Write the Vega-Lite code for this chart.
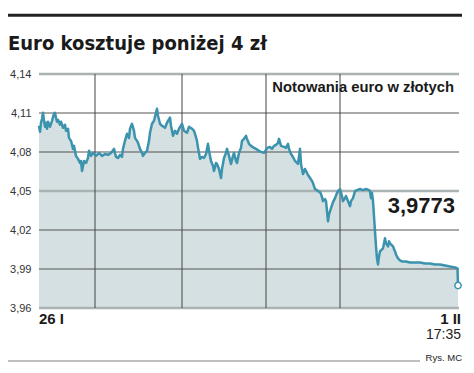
{
  "$schema": "https://vega.github.io/schema/vega-lite/v6.json",
  "autosize": "none",
  "width": 420,
  "height": 234,
  "padding": {"left": 39, "top": 74, "right": 15, "bottom": 65},
  "background": "white",
  "config": {"view": {"stroke": null}, "axisY": {"labelOverlap": false}},
  "datasets": {
    "kurs": [
      {"t":0,"v":4.1002},{"t":1,"v":4.0955},{"t":2,"v":4.1025},{"t":3,"v":4.1056},{"t":4,"v":4.1102},{"t":5,"v":4.1040},{"t":6,"v":4.0994},{"t":7,"v":4.1025},{"t":8,"v":4.0979},{"t":9,"v":4.1033},{"t":11,"v":4.0994},{"t":13,"v":4.1040},{"t":15,"v":4.1095},{"t":16,"v":4.1102},{"t":17,"v":4.1064},{"t":18,"v":4.1033},{"t":19,"v":4.1048},{"t":21,"v":4.1010},{"t":22,"v":4.1033},{"t":24,"v":4.0986},{"t":26,"v":4.1010},{"t":27,"v":4.0963},{"t":29,"v":4.0979},{"t":30,"v":4.0909},{"t":32,"v":4.0886},{"t":34,"v":4.0824},{"t":35,"v":4.0847},{"t":37,"v":4.0770},{"t":39,"v":4.0747},{"t":41,"v":4.0716},{"t":42,"v":4.0731},{"t":43,"v":4.0654},{"t":45,"v":4.0731},{"t":47,"v":4.0716},{"t":49,"v":4.0754},{"t":50,"v":4.0809},{"t":52,"v":4.0770},{"t":54,"v":4.0793},{"t":57,"v":4.0770},{"t":60,"v":4.0793},{"t":63,"v":4.0770},{"t":66,"v":4.0785},{"t":69,"v":4.0778},{"t":72,"v":4.0793},{"t":75,"v":4.0824},{"t":77,"v":4.0762},{"t":79,"v":4.0754},{"t":81,"v":4.0778},{"t":83,"v":4.0762},{"t":84,"v":4.0824},{"t":86,"v":4.0886},{"t":88,"v":4.0940},{"t":90,"v":4.0909},{"t":91,"v":4.0979},{"t":93,"v":4.1017},{"t":95,"v":4.0963},{"t":96,"v":4.0909},{"t":98,"v":4.0886},{"t":99,"v":4.0870},{"t":101,"v":4.0824},{"t":103,"v":4.0793},{"t":104,"v":4.0770},{"t":106,"v":4.0793},{"t":108,"v":4.0809},{"t":110,"v":4.0886},{"t":111,"v":4.0948},{"t":113,"v":4.1017},{"t":115,"v":4.1040},{"t":117,"v":4.1102},{"t":118,"v":4.1133},{"t":119,"v":4.1079},{"t":121,"v":4.1017},{"t":123,"v":4.1002},{"t":126,"v":4.0986},{"t":128,"v":4.1025},{"t":131,"v":4.1064},{"t":132,"v":4.1002},{"t":134,"v":4.0924},{"t":136,"v":4.0963},{"t":138,"v":4.0940},{"t":140,"v":4.0979},{"t":143,"v":4.1017},{"t":145,"v":4.0963},{"t":148,"v":4.0948},{"t":150,"v":4.0994},{"t":153,"v":4.0979},{"t":155,"v":4.0963},{"t":156,"v":4.0940},{"t":158,"v":4.0886},{"t":159,"v":4.0832},{"t":160,"v":4.0793},{"t":161,"v":4.0747},{"t":163,"v":4.0762},{"t":165,"v":4.0754},{"t":167,"v":4.0785},{"t":169,"v":4.0863},{"t":170,"v":4.0809},{"t":172,"v":4.0731},{"t":174,"v":4.0693},{"t":175,"v":4.0654},{"t":177,"v":4.0716},{"t":178,"v":4.0708},{"t":180,"v":4.0669},{"t":182,"v":4.0600},{"t":183,"v":4.0669},{"t":185,"v":4.0754},{"t":187,"v":4.0793},{"t":188,"v":4.0824},{"t":190,"v":4.0770},{"t":192,"v":4.0708},{"t":194,"v":4.0770},{"t":195,"v":4.0793},{"t":197,"v":4.0731},{"t":198,"v":4.0716},{"t":200,"v":4.0793},{"t":202,"v":4.0832},{"t":203,"v":4.0886},{"t":205,"v":4.0901},{"t":207,"v":4.0924},{"t":208,"v":4.0901},{"t":210,"v":4.0863},{"t":212,"v":4.0847},{"t":215,"v":4.0832},{"t":217,"v":4.0824},{"t":220,"v":4.0809},{"t":222,"v":4.0801},{"t":225,"v":4.0793},{"t":227,"v":4.0816},{"t":228,"v":4.0832},{"t":231,"v":4.0839},{"t":233,"v":4.0824},{"t":235,"v":4.0847},{"t":237,"v":4.0855},{"t":239,"v":4.0870},{"t":240,"v":4.0901},{"t":242,"v":4.0847},{"t":245,"v":4.0839},{"t":247,"v":4.0832},{"t":249,"v":4.0863},{"t":250,"v":4.0824},{"t":252,"v":4.0785},{"t":254,"v":4.0762},{"t":256,"v":4.0731},{"t":258,"v":4.0716},{"t":259,"v":4.0708},{"t":261,"v":4.0824},{"t":262,"v":4.0708},{"t":264,"v":4.0631},{"t":266,"v":4.0669},{"t":267,"v":4.0654},{"t":269,"v":4.0623},{"t":271,"v":4.0600},{"t":273,"v":4.0577},{"t":274,"v":4.0561},{"t":276,"v":4.0515},{"t":278,"v":4.0507},{"t":279,"v":4.0499},{"t":281,"v":4.0491},{"t":282,"v":4.0476},{"t":283,"v":4.0453},{"t":284,"v":4.0422},{"t":286,"v":4.0437},{"t":287,"v":4.0422},{"t":288,"v":4.0345},{"t":289,"v":4.0267},{"t":290,"v":4.0321},{"t":292,"v":4.0368},{"t":294,"v":4.0414},{"t":296,"v":4.0445},{"t":298,"v":4.0484},{"t":299,"v":4.0499},{"t":301,"v":4.0515},{"t":303,"v":4.0461},{"t":304,"v":4.0422},{"t":306,"v":4.0445},{"t":307,"v":4.0461},{"t":309,"v":4.0422},{"t":311,"v":4.0383},{"t":312,"v":4.0422},{"t":314,"v":4.0445},{"t":316,"v":4.0499},{"t":318,"v":4.0507},{"t":321,"v":4.0515},{"t":324,"v":4.0507},{"t":327,"v":4.0515},{"t":330,"v":4.0507},{"t":331,"v":4.0499},{"t":332,"v":4.0445},{"t":333,"v":4.0484},{"t":334,"v":4.0422},{"t":335,"v":4.0306},{"t":336,"v":4.0190},{"t":337,"v":4.0074},{"t":338,"v":3.9981},{"t":339,"v":3.9935},{"t":340,"v":3.9997},{"t":341,"v":4.0035},{"t":343,"v":4.0051},{"t":344,"v":4.0059},{"t":345,"v":4.0097},{"t":346,"v":4.0136},{"t":347,"v":4.0097},{"t":349,"v":4.0074},{"t":350,"v":4.0113},{"t":351,"v":4.0097},{"t":353,"v":4.0082},{"t":354,"v":4.0074},{"t":356,"v":4.0035},{"t":357,"v":4.0012},{"t":359,"v":3.9981},{"t":361,"v":3.9966},{"t":363,"v":3.9958},{"t":367,"v":3.9958},{"t":371,"v":3.9950},{"t":376,"v":3.9950},{"t":381,"v":3.9950},{"t":386,"v":3.9943},{"t":391,"v":3.9943},{"t":396,"v":3.9935},{"t":401,"v":3.9935},{"t":406,"v":3.9927},{"t":411,"v":3.9919},{"t":416,"v":3.9912},{"t":418.5,"v":3.9904},{"t":419,"v":3.9773}
    ]
  },
  "layer": [
    {
      "data": {"name": "kurs"},
      "mark": {"type": "area", "color": "#d4e0e1"},
      "encoding": {
        "x": {"field": "t", "type": "quantitative", "scale": {"domain": [0, 420], "nice": false, "zero": false}, "axis": null},
        "y": {"field": "v", "type": "quantitative", "scale": {"domain": [3.96, 4.14], "nice": false, "zero": false},
          "axis": {"title": null, "values": [3.96, 3.99, 4.02, 4.05, 4.08, 4.11, 4.14], "tickCount": 20, "labelExpr": "replace(format(datum.value, '.2f'), '.', ',')", "labelOverlap": false, "grid": false, "domain": false, "ticks": false, "labelPadding": 8, "labelFont": "Liberation Sans", "labelFontSize": 11, "labelColor": "#333333"}},
        "y2": {"datum": 3.96}
      }
    },
    {
      "data": {"values": [{"v": 4.11}, {"v": 4.08}, {"v": 4.02}, {"v": 3.99}]},
      "mark": {"type": "rule", "color": "#555555", "strokeWidth": 1},
      "encoding": {"y": {"field": "v", "type": "quantitative"}}
    },
    {
      "data": {"values": [{"v": 4.14}, {"v": 4.05}, {"v": 3.96}]},
      "mark": {"type": "rule", "color": "#aab3b3", "strokeWidth": 2.5},
      "encoding": {"y": {"field": "v", "type": "quantitative"}}
    },
    {
      "data": {"values": [{"t": 56}, {"t": 143}, {"t": 227}, {"t": 301}]},
      "mark": {"type": "rule", "color": "#444444", "strokeWidth": 1},
      "encoding": {"x": {"field": "t", "type": "quantitative", "axis": null}}
    },
    {
      "data": {"name": "kurs"},
      "mark": {"type": "line", "color": "#3b93ae", "strokeWidth": 2.5, "strokeJoin": "round"},
      "encoding": {
        "x": {"field": "t", "type": "quantitative", "axis": null},
        "y": {"field": "v", "type": "quantitative"}
      }
    },
    {
      "data": {"values": [{"t": 419, "v": 3.9773}]},
      "mark": {"type": "point", "filled": true, "fill": "white", "stroke": "#3b93ae", "strokeWidth": 1.5, "size": 40, "opacity": 1},
      "encoding": {
        "x": {"field": "t", "type": "quantitative", "axis": null},
        "y": {"field": "v", "type": "quantitative"}
      }
    },
    {
      "data": {"values": [
        {"t": -31, "t2": 423, "v": 4.1852, "c": "top"},
        {"t": -31, "t2": 381, "v": 3.9193, "c": "bottom"}
      ]},
      "mark": {"type": "rule"},
      "encoding": {
        "x": {"field": "t", "type": "quantitative", "axis": null},
        "x2": {"field": "t2"},
        "y": {"field": "v", "type": "quantitative"},
        "color": {"field": "c", "type": "nominal", "scale": {"domain": ["top", "bottom"], "range": ["#222222", "#c0c0c0"]}, "legend": null},
        "strokeWidth": {"field": "c", "type": "nominal", "scale": {"domain": ["top", "bottom"], "range": [3, 2]}, "legend": null}
      }
    },
    {
      "data": {"values": [
        {"t": -31, "v": 4.1582, "s": "Euro kosztuje poniżej 4 zł"}
      ]},
      "mark": {"type": "text", "align": "left", "baseline": "alphabetic", "font": "DejaVu Sans Condensed", "fontWeight": "bold", "fontSize": 20, "color": "#1a1a1a"},
      "encoding": {
        "x": {"field": "t", "type": "quantitative", "axis": null},
        "y": {"field": "v", "type": "quantitative"},
        "text": {"field": "s"}
      }
    },
    {
      "data": {"values": [
        {"t": 415, "v": 4.1259, "s": "Notowania euro w złotych"}
      ]},
      "mark": {"type": "text", "align": "right", "baseline": "alphabetic", "font": "Liberation Sans", "fontWeight": "bold", "fontSize": 14.8, "color": "#1a1a1a"},
      "encoding": {
        "x": {"field": "t", "type": "quantitative", "axis": null},
        "y": {"field": "v", "type": "quantitative"},
        "text": {"field": "s"}
      }
    },
    {
      "data": {"values": [
        {"t": 416, "v": 4.0331, "s": "3,9773"}
      ]},
      "mark": {"type": "text", "align": "right", "baseline": "alphabetic", "font": "Liberation Sans", "fontWeight": "bold", "fontSize": 22, "color": "#1a1a1a"},
      "encoding": {
        "x": {"field": "t", "type": "quantitative", "axis": null},
        "y": {"field": "v", "type": "quantitative"},
        "text": {"field": "s"}
      }
    },
    {
      "data": {"values": [
        {"t": 0, "v": 3.9515, "s": "26 I", "a": "left"},
        {"t": 422, "v": 3.9515, "s": "1 II", "a": "right"}
      ]},
      "mark": {"type": "text", "baseline": "middle", "font": "Liberation Sans", "fontWeight": "bold", "fontSize": 15, "color": "#1a1a1a", "align": {"expr": "datum.a"}},
      "encoding": {
        "x": {"field": "t", "type": "quantitative", "axis": null},
        "y": {"field": "v", "type": "quantitative"},
        "text": {"field": "s"}
      }
    },
    {
      "data": {"values": [
        {"t": 422, "v": 3.9390, "s": "17:35", "f": 14},
        {"t": 423, "v": 3.9216, "s": "Rys. MC", "f": 9.5}
      ]},
      "mark": {"type": "text", "align": "right", "baseline": "middle", "font": "Liberation Sans", "color": "#222222"},
      "encoding": {
        "x": {"field": "t", "type": "quantitative", "axis": null},
        "y": {"field": "v", "type": "quantitative"},
        "text": {"field": "s"},
        "size": {"field": "f", "type": "quantitative", "scale": null, "legend": null}
      }
    }
  ]
}
